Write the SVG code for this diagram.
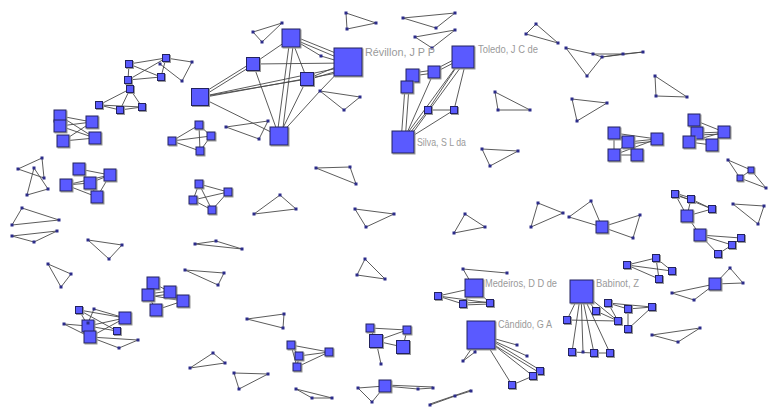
<svg xmlns="http://www.w3.org/2000/svg" width="768" height="407" viewBox="0 0 768 407">
<defs>
<filter id="sh" x="-30%" y="-30%" width="160%" height="160%"><feDropShadow dx="1" dy="1" stdDeviation="0.5" flood-color="#9a9a9a"/></filter>
</defs>
<style>
.n{fill:#5a5aff;stroke:#23235e;stroke-width:1;filter:url(#sh)}
.d{fill:#2c2c8a}
#edges line{stroke:#484848;stroke-width:0.9}
.l{font-family:"Liberation Sans",Arial,sans-serif;font-size:10.5px;fill:#9a9a9a}
</style>
<rect width="768" height="407" fill="#fff"/>
<g id="edges">
<line x1="253" y1="32" x2="282" y2="23"/><line x1="282" y1="23" x2="262" y2="42"/><line x1="262" y1="42" x2="253" y2="32"/>
<line x1="346" y1="13" x2="376" y2="23"/><line x1="376" y1="23" x2="347" y2="29"/><line x1="347" y1="29" x2="346" y2="13"/>
<line x1="403" y1="18" x2="455" y2="13"/><line x1="455" y1="13" x2="436" y2="28"/><line x1="436" y1="28" x2="403" y2="18"/>
<line x1="415" y1="37" x2="455" y2="30"/><line x1="455" y1="30" x2="432" y2="48"/><line x1="432" y1="48" x2="415" y2="37"/>
<line x1="536" y1="24" x2="526" y2="34"/><line x1="526" y1="34" x2="558" y2="43"/><line x1="558" y1="43" x2="536" y2="24"/>
<line x1="566" y1="48" x2="593" y2="54"/><line x1="566" y1="48" x2="587" y2="76"/><line x1="593" y1="54" x2="602" y2="57"/><line x1="587" y1="76" x2="602" y2="57"/><line x1="602" y1="57" x2="623" y2="54"/><line x1="593" y1="54" x2="623" y2="54"/><line x1="623" y1="54" x2="643" y2="52"/><line x1="602" y1="57" x2="643" y2="52"/>
<line x1="655" y1="76" x2="656" y2="96"/><line x1="656" y1="96" x2="687" y2="97"/><line x1="687" y1="97" x2="655" y2="76"/>
<line x1="572" y1="99" x2="607" y2="103"/><line x1="607" y1="103" x2="577" y2="121"/><line x1="577" y1="121" x2="572" y2="99"/>
<line x1="495" y1="92" x2="498" y2="110"/><line x1="498" y1="110" x2="530" y2="110"/><line x1="530" y1="110" x2="495" y2="92"/>
<line x1="463" y1="58" x2="434" y2="73"/><line x1="463" y1="55" x2="434" y2="70"/><line x1="434" y1="73" x2="412" y2="76"/><line x1="434" y1="70" x2="412" y2="73"/><line x1="412" y1="75" x2="407" y2="87"/><line x1="405" y1="87" x2="401" y2="142"/><line x1="409" y1="87" x2="405" y2="142"/><line x1="461" y1="60" x2="401" y2="142"/><line x1="466" y1="60" x2="406" y2="142"/><line x1="434" y1="72" x2="403" y2="142"/><line x1="463" y1="57" x2="428" y2="110"/><line x1="467" y1="57" x2="454" y2="110"/><line x1="428" y1="110" x2="454" y2="110"/><line x1="428" y1="110" x2="403" y2="142"/><line x1="454" y1="110" x2="403" y2="142"/>
<line x1="291" y1="38" x2="348" y2="62"/><line x1="291" y1="35" x2="348" y2="58"/><line x1="291" y1="38" x2="321" y2="56"/><line x1="321" y1="56" x2="348" y2="64"/><line x1="291" y1="38" x2="253" y2="64"/><line x1="253" y1="64" x2="348" y2="63"/><line x1="200" y1="98" x2="253" y2="65"/><line x1="200" y1="95" x2="253" y2="62"/><line x1="200" y1="97" x2="348" y2="66"/><line x1="200" y1="98" x2="348" y2="71"/><line x1="200" y1="97" x2="307" y2="79"/><line x1="200" y1="97" x2="279" y2="136"/><line x1="253" y1="64" x2="279" y2="136"/><line x1="290" y1="38" x2="277" y2="136"/><line x1="294" y1="38" x2="282" y2="136"/><line x1="291" y1="38" x2="307" y2="79"/><line x1="307" y1="79" x2="279" y2="136"/><line x1="307" y1="79" x2="348" y2="62"/><line x1="307" y1="80" x2="348" y2="68"/><line x1="348" y1="62" x2="320" y2="91"/><line x1="320" y1="91" x2="279" y2="136"/>
<line x1="320" y1="91" x2="360" y2="97"/><line x1="360" y1="97" x2="344" y2="110"/><line x1="344" y1="110" x2="320" y2="91"/>
<line x1="226" y1="127" x2="268" y2="121"/><line x1="268" y1="121" x2="259" y2="139"/><line x1="259" y1="139" x2="226" y2="127"/>
<line x1="129" y1="64" x2="166" y2="58"/><line x1="129" y1="64" x2="161" y2="77"/><line x1="128" y1="80" x2="166" y2="58"/><line x1="128" y1="80" x2="161" y2="77"/><line x1="129" y1="64" x2="128" y2="80"/><line x1="160" y1="64" x2="182" y2="81"/><line x1="166" y1="58" x2="192" y2="62"/><line x1="182" y1="81" x2="192" y2="62"/><line x1="166" y1="58" x2="161" y2="77"/>
<line x1="130" y1="89" x2="99" y2="105"/><line x1="130" y1="89" x2="120" y2="110"/><line x1="130" y1="89" x2="142" y2="107"/><line x1="99" y1="105" x2="120" y2="110"/><line x1="99" y1="105" x2="142" y2="107"/><line x1="120" y1="110" x2="142" y2="107"/>
<line x1="60" y1="116" x2="92" y2="122"/><line x1="60" y1="126" x2="92" y2="122"/><line x1="60" y1="116" x2="95" y2="138"/><line x1="60" y1="126" x2="95" y2="138"/><line x1="63" y1="141" x2="95" y2="138"/><line x1="63" y1="141" x2="92" y2="122"/>
<line x1="79" y1="169" x2="110" y2="175"/><line x1="79" y1="169" x2="90" y2="183"/><line x1="66" y1="185" x2="90" y2="183"/><line x1="66" y1="185" x2="110" y2="175"/><line x1="66" y1="185" x2="97" y2="197"/><line x1="90" y1="183" x2="110" y2="175"/><line x1="90" y1="183" x2="97" y2="197"/><line x1="97" y1="197" x2="110" y2="175"/>
<line x1="18" y1="169" x2="42" y2="158"/><line x1="42" y1="158" x2="44" y2="178"/><line x1="44" y1="178" x2="18" y2="169"/>
<line x1="34" y1="168" x2="48" y2="189"/><line x1="48" y1="189" x2="27" y2="195"/><line x1="27" y1="195" x2="34" y2="168"/>
<line x1="22" y1="208" x2="12" y2="225"/><line x1="12" y1="225" x2="59" y2="220"/><line x1="59" y1="220" x2="22" y2="208"/>
<line x1="12" y1="236" x2="57" y2="231"/><line x1="57" y1="231" x2="34" y2="242"/><line x1="34" y1="242" x2="12" y2="236"/>
<line x1="88" y1="240" x2="122" y2="245"/><line x1="122" y1="245" x2="109" y2="259"/><line x1="109" y1="259" x2="88" y2="240"/>
<line x1="48" y1="264" x2="71" y2="274"/><line x1="71" y1="274" x2="61" y2="287"/><line x1="61" y1="287" x2="48" y2="264"/>
<line x1="199" y1="125" x2="211" y2="136"/><line x1="199" y1="125" x2="200" y2="151"/><line x1="211" y1="136" x2="200" y2="151"/><line x1="172" y1="141" x2="199" y2="125"/><line x1="172" y1="141" x2="211" y2="136"/><line x1="172" y1="141" x2="200" y2="151"/>
<line x1="199" y1="184" x2="228" y2="192"/><line x1="199" y1="184" x2="193" y2="200"/><line x1="199" y1="184" x2="212" y2="210"/><line x1="193" y1="200" x2="228" y2="192"/><line x1="193" y1="200" x2="212" y2="210"/><line x1="212" y1="210" x2="228" y2="192"/>
<line x1="316" y1="168" x2="350" y2="167"/><line x1="350" y1="167" x2="356" y2="184"/><line x1="356" y1="184" x2="316" y2="168"/>
<line x1="280" y1="195" x2="296" y2="209"/><line x1="296" y1="209" x2="254" y2="214"/><line x1="254" y1="214" x2="280" y2="195"/>
<line x1="195" y1="244" x2="216" y2="241"/><line x1="216" y1="241" x2="242" y2="249"/><line x1="242" y1="249" x2="195" y2="244"/>
<line x1="355" y1="209" x2="394" y2="214"/><line x1="394" y1="214" x2="366" y2="227"/><line x1="366" y1="227" x2="355" y2="209"/>
<line x1="365" y1="259" x2="357" y2="275"/><line x1="357" y1="275" x2="385" y2="279"/><line x1="385" y1="279" x2="365" y2="259"/>
<line x1="185" y1="270" x2="224" y2="273"/><line x1="224" y1="273" x2="218" y2="285"/><line x1="218" y1="285" x2="185" y2="270"/>
<line x1="482" y1="149" x2="518" y2="151"/><line x1="518" y1="151" x2="490" y2="166"/><line x1="490" y1="166" x2="482" y2="149"/>
<line x1="465" y1="214" x2="485" y2="227"/><line x1="485" y1="227" x2="454" y2="233"/><line x1="454" y1="233" x2="465" y2="214"/>
<line x1="538" y1="203" x2="563" y2="213"/><line x1="563" y1="213" x2="531" y2="227"/><line x1="531" y1="227" x2="538" y2="203"/>
<line x1="569" y1="217" x2="591" y2="201"/><line x1="569" y1="217" x2="602" y2="227"/><line x1="591" y1="201" x2="602" y2="227"/><line x1="602" y1="227" x2="640" y2="215"/><line x1="602" y1="227" x2="633" y2="238"/><line x1="640" y1="215" x2="633" y2="238"/>
<line x1="614" y1="133" x2="657" y2="139"/><line x1="628" y1="142" x2="657" y2="139"/><line x1="628" y1="144" x2="657" y2="141"/><line x1="614" y1="133" x2="614" y2="155"/><line x1="628" y1="142" x2="614" y2="155"/><line x1="614" y1="155" x2="637" y2="155"/><line x1="628" y1="142" x2="637" y2="155"/><line x1="614" y1="155" x2="657" y2="139"/><line x1="614" y1="133" x2="628" y2="142"/>
<line x1="694" y1="120" x2="724" y2="132"/><line x1="697" y1="133" x2="724" y2="132"/><line x1="697" y1="135" x2="724" y2="134"/><line x1="694" y1="120" x2="697" y2="133"/><line x1="689" y1="142" x2="697" y2="133"/><line x1="689" y1="142" x2="712" y2="145"/><line x1="697" y1="133" x2="712" y2="145"/><line x1="712" y1="145" x2="724" y2="132"/><line x1="689" y1="142" x2="724" y2="132"/>
<line x1="728" y1="160" x2="751" y2="170"/><line x1="728" y1="160" x2="740" y2="178"/><line x1="740" y1="178" x2="751" y2="170"/><line x1="740" y1="178" x2="766" y2="188"/><line x1="751" y1="170" x2="766" y2="188"/>
<line x1="733" y1="204" x2="764" y2="206"/><line x1="764" y1="206" x2="758" y2="224"/><line x1="758" y1="224" x2="733" y2="204"/>
<line x1="675" y1="193" x2="691" y2="198"/><line x1="675" y1="195" x2="691" y2="200"/><line x1="675" y1="194" x2="712" y2="209"/><line x1="691" y1="199" x2="712" y2="209"/><line x1="675" y1="194" x2="687" y2="216"/><line x1="691" y1="199" x2="687" y2="216"/><line x1="687" y1="216" x2="712" y2="209"/><line x1="687" y1="216" x2="700" y2="235"/><line x1="700" y1="235" x2="741" y2="238"/><line x1="700" y1="235" x2="732" y2="245"/><line x1="700" y1="235" x2="718" y2="254"/><line x1="718" y1="254" x2="732" y2="245"/><line x1="732" y1="245" x2="741" y2="238"/>
<line x1="627" y1="265" x2="656" y2="258"/><line x1="627" y1="265" x2="672" y2="271"/><line x1="627" y1="265" x2="659" y2="279"/><line x1="656" y1="258" x2="672" y2="271"/><line x1="656" y1="258" x2="659" y2="279"/>
<line x1="715" y1="284" x2="743" y2="283"/><line x1="730" y1="268" x2="743" y2="283"/><line x1="730" y1="268" x2="715" y2="284"/><line x1="672" y1="293" x2="715" y2="284"/><line x1="694" y1="300" x2="715" y2="284"/><line x1="672" y1="293" x2="694" y2="300"/>
<line x1="652" y1="335" x2="700" y2="328"/><line x1="700" y1="328" x2="678" y2="342"/><line x1="678" y1="342" x2="652" y2="335"/>
<line x1="581" y1="291" x2="596" y2="311"/><line x1="581" y1="291" x2="618" y2="321"/><line x1="581" y1="291" x2="567" y2="320"/><line x1="581" y1="291" x2="572" y2="352"/><line x1="581" y1="291" x2="583" y2="352"/><line x1="581" y1="291" x2="594" y2="353"/><line x1="581" y1="291" x2="610" y2="353"/><line x1="608" y1="303" x2="628" y2="309"/><line x1="608" y1="303" x2="652" y2="307"/><line x1="628" y1="309" x2="652" y2="307"/><line x1="628" y1="309" x2="628" y2="329"/><line x1="628" y1="329" x2="652" y2="307"/><line x1="596" y1="311" x2="618" y2="321"/><line x1="608" y1="303" x2="618" y2="321"/><line x1="567" y1="320" x2="618" y2="321"/><line x1="572" y1="352" x2="594" y2="353"/><line x1="594" y1="353" x2="610" y2="353"/>
<line x1="474" y1="288" x2="438" y2="296"/><line x1="474" y1="288" x2="463" y2="304"/><line x1="474" y1="288" x2="490" y2="303"/><line x1="438" y1="296" x2="463" y2="304"/><line x1="438" y1="296" x2="490" y2="303"/><line x1="463" y1="303" x2="490" y2="302"/><line x1="463" y1="305" x2="490" y2="304"/><line x1="474" y1="288" x2="463" y2="269"/><line x1="463" y1="269" x2="507" y2="273"/>
<line x1="481" y1="335" x2="517" y2="345"/><line x1="481" y1="335" x2="527" y2="356"/><line x1="481" y1="334" x2="540" y2="370"/><line x1="481" y1="337" x2="540" y2="373"/><line x1="481" y1="335" x2="533" y2="376"/><line x1="481" y1="335" x2="512" y2="385"/><line x1="512" y1="385" x2="533" y2="376"/><line x1="533" y1="376" x2="540" y2="371"/><line x1="481" y1="335" x2="475" y2="352"/><line x1="481" y1="335" x2="463" y2="361"/><line x1="475" y1="352" x2="463" y2="361"/>
<line x1="370" y1="328" x2="407" y2="330"/><line x1="370" y1="328" x2="376" y2="341"/><line x1="376" y1="341" x2="407" y2="330"/><line x1="376" y1="341" x2="403" y2="347"/><line x1="403" y1="347" x2="407" y2="330"/><line x1="376" y1="341" x2="381" y2="364"/>
<line x1="291" y1="345" x2="329" y2="352"/><line x1="299" y1="356" x2="329" y2="352"/><line x1="297" y1="367" x2="329" y2="352"/><line x1="291" y1="345" x2="299" y2="356"/><line x1="291" y1="345" x2="297" y2="367"/><line x1="299" y1="356" x2="297" y2="367"/>
<line x1="247" y1="319" x2="284" y2="314"/><line x1="284" y1="314" x2="283" y2="328"/><line x1="283" y1="328" x2="247" y2="319"/>
<line x1="190" y1="368" x2="213" y2="353"/><line x1="213" y1="353" x2="225" y2="363"/><line x1="225" y1="363" x2="190" y2="368"/>
<line x1="234" y1="373" x2="268" y2="374"/><line x1="268" y1="374" x2="239" y2="389"/><line x1="239" y1="389" x2="234" y2="373"/>
<line x1="296" y1="389" x2="312" y2="398"/><line x1="312" y1="398" x2="332" y2="398"/><line x1="332" y1="398" x2="296" y2="389"/>
<line x1="358" y1="388" x2="385" y2="386"/><line x1="358" y1="388" x2="372" y2="402"/><line x1="372" y1="402" x2="385" y2="386"/><line x1="385" y1="386" x2="418" y2="389"/><line x1="418" y1="389" x2="433" y2="388"/><line x1="385" y1="385" x2="433" y2="387"/>
<line x1="430" y1="405" x2="455" y2="396"/><line x1="455" y1="396" x2="471" y2="391"/><line x1="430" y1="404" x2="471" y2="390"/>
<line x1="153" y1="283" x2="170" y2="292"/><line x1="148" y1="294" x2="170" y2="291"/><line x1="148" y1="297" x2="170" y2="294"/><line x1="148" y1="295" x2="183" y2="301"/><line x1="170" y1="292" x2="183" y2="301"/><line x1="148" y1="295" x2="156" y2="310"/><line x1="156" y1="310" x2="183" y2="301"/><line x1="153" y1="283" x2="148" y2="295"/>
<line x1="79" y1="310" x2="125" y2="318"/><line x1="79" y1="310" x2="117" y2="331"/><line x1="94" y1="309" x2="125" y2="318"/><line x1="94" y1="309" x2="88" y2="323"/><line x1="64" y1="324" x2="88" y2="326"/><line x1="64" y1="324" x2="90" y2="337"/><line x1="88" y1="326" x2="125" y2="318"/><line x1="88" y1="326" x2="117" y2="331"/><line x1="90" y1="337" x2="125" y2="318"/><line x1="90" y1="337" x2="138" y2="340"/><line x1="90" y1="337" x2="119" y2="348"/><line x1="119" y1="348" x2="138" y2="340"/><line x1="79" y1="310" x2="88" y2="326"/>
</g>
<g id="t1a"><rect class="d" x="251.5" y="30.5" width="3" height="3"/></g><g id="t1b"><rect class="d" x="280.5" y="21.5" width="3" height="3"/></g><g id="t1c"><rect class="d" x="260.5" y="40.5" width="3" height="3"/></g>
<g id="t2a"><rect class="d" x="344.5" y="11.5" width="3" height="3"/></g><g id="t2b"><rect class="d" x="374.5" y="21.5" width="3" height="3"/></g><g id="t2c"><rect class="d" x="345.5" y="27.5" width="3" height="3"/></g>
<g id="t3a"><rect class="d" x="401.5" y="16.5" width="3" height="3"/></g><g id="t3b"><rect class="d" x="453.5" y="11.5" width="3" height="3"/></g><g id="t3c"><rect class="d" x="434.5" y="26.5" width="3" height="3"/></g>
<g id="t4a"><rect class="d" x="413.5" y="35.5" width="3" height="3"/></g><g id="t4b"><rect class="d" x="453.5" y="28.5" width="3" height="3"/></g><g id="t4c"><rect class="d" x="430.5" y="46.5" width="3" height="3"/></g>
<g id="t5a"><rect class="d" x="534.5" y="22.5" width="3" height="3"/></g><g id="t5b"><rect class="d" x="524.5" y="32.5" width="3" height="3"/></g><g id="t5c"><rect class="d" x="556.5" y="41.5" width="3" height="3"/></g>
<g id="c6a"><rect class="d" x="564.5" y="46.5" width="3" height="3"/></g><g id="c6b"><rect class="d" x="591.5" y="52.5" width="3" height="3"/></g><g id="c6c"><rect class="d" x="600.5" y="55.5" width="3" height="3"/></g><g id="c6d"><rect class="d" x="621.5" y="52.5" width="3" height="3"/></g><g id="c6e"><rect class="d" x="641.5" y="50.5" width="3" height="3"/></g><g id="c6f"><rect class="d" x="585.5" y="74.5" width="3" height="3"/></g>
<g id="t7a"><rect class="d" x="653.5" y="74.5" width="3" height="3"/></g><g id="t7b"><rect class="d" x="654.5" y="94.5" width="3" height="3"/></g><g id="t7c"><rect class="d" x="685.5" y="95.5" width="3" height="3"/></g>
<g id="t8a"><rect class="d" x="570.5" y="97.5" width="3" height="3"/></g><g id="t8b"><rect class="d" x="605.5" y="101.5" width="3" height="3"/></g><g id="t8c"><rect class="d" x="575.5" y="119.5" width="3" height="3"/></g>
<g id="t9a"><rect class="d" x="493.5" y="90.5" width="3" height="3"/></g><g id="t9b"><rect class="d" x="496.5" y="108.5" width="3" height="3"/></g><g id="t9c"><rect class="d" x="528.5" y="108.5" width="3" height="3"/></g>
<g id="toledo"><rect class="n" x="452" y="46" width="22" height="22"/><text class="l" x="478" y="53" textLength="60" lengthAdjust="spacingAndGlyphs">Toledo, J C de</text></g>
<g id="tq1"><rect class="n" x="406" y="69" width="13" height="13"/></g>
<g id="tq2"><rect class="n" x="401" y="81" width="12" height="12"/></g>
<g id="tq3"><rect class="n" x="428" y="66" width="12" height="12"/></g>
<g id="tq4"><rect class="n" x="424.5" y="106.5" width="7" height="7"/></g>
<g id="tq5"><rect class="n" x="450.5" y="106.5" width="7" height="7"/></g>
<g id="silva"><rect class="n" x="392" y="131" width="22" height="22"/><text class="l" x="417" y="146" textLength="49" lengthAdjust="spacingAndGlyphs">Silva, S L da</text></g>
<g id="revillon"><rect class="n" x="334" y="48" width="28" height="28"/><text class="l" x="365" y="56" textLength="70" lengthAdjust="spacingAndGlyphs">Révillon, J P P</text></g>
<g id="r1"><rect class="n" x="282" y="29" width="18" height="18"/></g>
<g id="r2"><rect class="n" x="246.5" y="57.5" width="13" height="13"/></g>
<g id="r3"><rect class="n" x="300.5" y="72.5" width="13" height="13"/></g>
<g id="r4"><rect class="n" x="191.5" y="88.5" width="17" height="17"/></g>
<g id="r5"><rect class="n" x="270" y="127" width="18" height="18"/></g>
<g id="r6"><rect class="d" x="319.5" y="54.5" width="3" height="3"/></g>
<g id="t10a"><rect class="d" x="318.5" y="89.5" width="3" height="3"/></g><g id="t10b"><rect class="d" x="358.5" y="95.5" width="3" height="3"/></g><g id="t10c"><rect class="d" x="342.5" y="108.5" width="3" height="3"/></g>
<g id="t11a"><rect class="d" x="224.5" y="125.5" width="3" height="3"/></g><g id="t11b"><rect class="d" x="266.5" y="119.5" width="3" height="3"/></g><g id="t11c"><rect class="d" x="257.5" y="137.5" width="3" height="3"/></g>
<g id="l1a"><rect class="n" x="125.5" y="60.5" width="7" height="7"/></g><g id="l1b"><rect class="n" x="162.5" y="54.5" width="7" height="7"/></g><g id="l1c"><rect class="n" x="124.5" y="76.5" width="7" height="7"/></g><g id="l1d"><rect class="n" x="157.5" y="73.5" width="7" height="7"/></g>
<g id="l1e"><rect class="d" x="158.5" y="62.5" width="3" height="3"/></g><g id="l1f"><rect class="d" x="180.5" y="79.5" width="3" height="3"/></g><g id="l1g"><rect class="d" x="190.5" y="60.5" width="3" height="3"/></g>
<g id="l2a"><rect class="n" x="126.5" y="85.5" width="7" height="7"/></g><g id="l2b"><rect class="n" x="95.5" y="101.5" width="7" height="7"/></g><g id="l2c"><rect class="n" x="116.5" y="106.5" width="7" height="7"/></g><g id="l2d"><rect class="n" x="138.5" y="103.5" width="7" height="7"/></g>
<g id="l3a"><rect class="n" x="54" y="110" width="12" height="12"/></g><g id="l3b"><rect class="n" x="54" y="120" width="12" height="12"/></g><g id="l3c"><rect class="n" x="86" y="116" width="12" height="12"/></g><g id="l3d"><rect class="n" x="89" y="132" width="12" height="12"/></g><g id="l3e"><rect class="n" x="57" y="135" width="12" height="12"/></g>
<g id="l4a"><rect class="n" x="73" y="163" width="12" height="12"/></g><g id="l4b"><rect class="n" x="104" y="169" width="12" height="12"/></g><g id="l4c"><rect class="n" x="60" y="179" width="12" height="12"/></g><g id="l4d"><rect class="n" x="84" y="177" width="12" height="12"/></g><g id="l4e"><rect class="n" x="91" y="191" width="12" height="12"/></g>
<g id="t12a"><rect class="d" x="16.5" y="167.5" width="3" height="3"/></g><g id="t12b"><rect class="d" x="40.5" y="156.5" width="3" height="3"/></g><g id="t12c"><rect class="d" x="42.5" y="176.5" width="3" height="3"/></g>
<g id="t13a"><rect class="d" x="32.5" y="166.5" width="3" height="3"/></g><g id="t13b"><rect class="d" x="46.5" y="187.5" width="3" height="3"/></g><g id="t13c"><rect class="d" x="25.5" y="193.5" width="3" height="3"/></g>
<g id="t14a"><rect class="d" x="20.5" y="206.5" width="3" height="3"/></g><g id="t14b"><rect class="d" x="10.5" y="223.5" width="3" height="3"/></g><g id="t14c"><rect class="d" x="57.5" y="218.5" width="3" height="3"/></g>
<g id="t15a"><rect class="d" x="10.5" y="234.5" width="3" height="3"/></g><g id="t15b"><rect class="d" x="55.5" y="229.5" width="3" height="3"/></g><g id="t15c"><rect class="d" x="32.5" y="240.5" width="3" height="3"/></g>
<g id="t16a"><rect class="d" x="86.5" y="238.5" width="3" height="3"/></g><g id="t16b"><rect class="d" x="120.5" y="243.5" width="3" height="3"/></g><g id="t16c"><rect class="d" x="107.5" y="257.5" width="3" height="3"/></g>
<g id="t17a"><rect class="d" x="46.5" y="262.5" width="3" height="3"/></g><g id="t17b"><rect class="d" x="69.5" y="272.5" width="3" height="3"/></g><g id="t17c"><rect class="d" x="59.5" y="285.5" width="3" height="3"/></g>
<g id="m1a"><rect class="n" x="195" y="121" width="8" height="8"/></g><g id="m1b"><rect class="n" x="207" y="132" width="8" height="8"/></g><g id="m1c"><rect class="n" x="168" y="137" width="8" height="8"/></g><g id="m1d"><rect class="n" x="196" y="147" width="8" height="8"/></g>
<g id="m2a"><rect class="n" x="195" y="180" width="8" height="8"/></g><g id="m2b"><rect class="n" x="224" y="188" width="8" height="8"/></g><g id="m2c"><rect class="n" x="189" y="196" width="8" height="8"/></g><g id="m2d"><rect class="n" x="208" y="206" width="8" height="8"/></g>
<g id="t18a"><rect class="d" x="314.5" y="166.5" width="3" height="3"/></g><g id="t18b"><rect class="d" x="348.5" y="165.5" width="3" height="3"/></g><g id="t18c"><rect class="d" x="354.5" y="182.5" width="3" height="3"/></g>
<g id="t19a"><rect class="d" x="278.5" y="193.5" width="3" height="3"/></g><g id="t19b"><rect class="d" x="294.5" y="207.5" width="3" height="3"/></g><g id="t19c"><rect class="d" x="252.5" y="212.5" width="3" height="3"/></g>
<g id="t20a"><rect class="d" x="193.5" y="242.5" width="3" height="3"/></g><g id="t20b"><rect class="d" x="214.5" y="239.5" width="3" height="3"/></g><g id="t20c"><rect class="d" x="240.5" y="247.5" width="3" height="3"/></g>
<g id="t21a"><rect class="d" x="353.5" y="207.5" width="3" height="3"/></g><g id="t21b"><rect class="d" x="392.5" y="212.5" width="3" height="3"/></g><g id="t21c"><rect class="d" x="364.5" y="225.5" width="3" height="3"/></g>
<g id="t22a"><rect class="d" x="363.5" y="257.5" width="3" height="3"/></g><g id="t22b"><rect class="d" x="355.5" y="273.5" width="3" height="3"/></g><g id="t22c"><rect class="d" x="383.5" y="277.5" width="3" height="3"/></g>
<g id="t23a"><rect class="d" x="183.5" y="268.5" width="3" height="3"/></g><g id="t23b"><rect class="d" x="222.5" y="271.5" width="3" height="3"/></g><g id="t23c"><rect class="d" x="216.5" y="283.5" width="3" height="3"/></g>
<g id="t24a"><rect class="d" x="480.5" y="147.5" width="3" height="3"/></g><g id="t24b"><rect class="d" x="516.5" y="149.5" width="3" height="3"/></g><g id="t24c"><rect class="d" x="488.5" y="164.5" width="3" height="3"/></g>
<g id="t25a"><rect class="d" x="463.5" y="212.5" width="3" height="3"/></g><g id="t25b"><rect class="d" x="483.5" y="225.5" width="3" height="3"/></g><g id="t25c"><rect class="d" x="452.5" y="231.5" width="3" height="3"/></g>
<g id="t26a"><rect class="d" x="536.5" y="201.5" width="3" height="3"/></g><g id="t26b"><rect class="d" x="561.5" y="211.5" width="3" height="3"/></g><g id="t26c"><rect class="d" x="529.5" y="225.5" width="3" height="3"/></g>
<g id="m3a"><rect class="d" x="567.5" y="215.5" width="3" height="3"/></g><g id="m3b"><rect class="d" x="589.5" y="199.5" width="3" height="3"/></g><g id="m3c"><rect class="n" x="596" y="221" width="12" height="12"/></g><g id="m3d"><rect class="d" x="638.5" y="213.5" width="3" height="3"/></g><g id="m3e"><rect class="d" x="631.5" y="236.5" width="3" height="3"/></g>
<g id="pa1"><rect class="n" x="608" y="127" width="12" height="12"/></g><g id="pa2"><rect class="n" x="622" y="136" width="12" height="12"/></g><g id="pa3"><rect class="n" x="651" y="133" width="12" height="12"/></g><g id="pa4"><rect class="n" x="608" y="149" width="12" height="12"/></g><g id="pa5"><rect class="n" x="631" y="149" width="12" height="12"/></g>
<g id="qb1"><rect class="n" x="688" y="114" width="12" height="12"/></g><g id="qb2"><rect class="n" x="691" y="127" width="12" height="12"/></g><g id="qb3"><rect class="n" x="718" y="126" width="12" height="12"/></g><g id="qb4"><rect class="n" x="683" y="136" width="12" height="12"/></g><g id="qb5"><rect class="n" x="706" y="139" width="12" height="12"/></g>
<g id="cc1"><rect class="d" x="726.5" y="158.5" width="3" height="3"/></g><g id="cc2"><rect class="n" x="748" y="167" width="6" height="6"/></g><g id="cc3"><rect class="n" x="737" y="175" width="6" height="6"/></g><g id="cc4"><rect class="d" x="764.5" y="186.5" width="3" height="3"/></g>
<g id="t27a"><rect class="d" x="731.5" y="202.5" width="3" height="3"/></g><g id="t27b"><rect class="d" x="762.5" y="204.5" width="3" height="3"/></g><g id="t27c"><rect class="d" x="756.5" y="222.5" width="3" height="3"/></g>
<g id="dd1"><rect class="n" x="671.5" y="190.5" width="7" height="7"/></g><g id="dd2"><rect class="n" x="687.5" y="195.5" width="7" height="7"/></g><g id="dd3"><rect class="n" x="708.5" y="205.5" width="7" height="7"/></g><g id="dd4"><rect class="n" x="681" y="210" width="12" height="12"/></g><g id="dd5"><rect class="n" x="694" y="229" width="12" height="12"/></g><g id="dd6"><rect class="n" x="737.5" y="234.5" width="7" height="7"/></g><g id="dd7"><rect class="n" x="728.5" y="241.5" width="7" height="7"/></g><g id="dd8"><rect class="n" x="714.5" y="250.5" width="7" height="7"/></g>
<g id="ee1"><rect class="n" x="623.5" y="261.5" width="7" height="7"/></g><g id="ee2"><rect class="n" x="652.5" y="254.5" width="7" height="7"/></g><g id="ee3"><rect class="n" x="668.5" y="267.5" width="7" height="7"/></g><g id="ee4"><rect class="n" x="655.5" y="275.5" width="7" height="7"/></g>
<g id="ff1"><rect class="n" x="709" y="278" width="12" height="12"/></g><g id="ff2"><rect class="d" x="728.5" y="266.5" width="3" height="3"/></g><g id="ff3"><rect class="d" x="741.5" y="281.5" width="3" height="3"/></g><g id="ff4"><rect class="d" x="670.5" y="291.5" width="3" height="3"/></g><g id="ff5"><rect class="d" x="692.5" y="298.5" width="3" height="3"/></g>
<g id="t28a"><rect class="d" x="650.5" y="333.5" width="3" height="3"/></g><g id="t28b"><rect class="d" x="698.5" y="326.5" width="3" height="3"/></g><g id="t28c"><rect class="d" x="676.5" y="340.5" width="3" height="3"/></g>
<g id="babinot"><rect class="n" x="570" y="280" width="23" height="23"/><text class="l" x="596" y="287" textLength="43" lengthAdjust="spacingAndGlyphs">Babinot, Z</text></g>
<g id="bb1"><rect class="n" x="604.5" y="299.5" width="7" height="7"/></g><g id="bb2"><rect class="n" x="592.5" y="307.5" width="7" height="7"/></g><g id="bb3"><rect class="n" x="624.5" y="305.5" width="7" height="7"/></g><g id="bb4"><rect class="n" x="648.5" y="303.5" width="7" height="7"/></g><g id="bb5"><rect class="n" x="614.5" y="317.5" width="7" height="7"/></g><g id="bb6"><rect class="n" x="624.5" y="325.5" width="7" height="7"/></g><g id="bb7"><rect class="n" x="563.5" y="316.5" width="7" height="7"/></g><g id="bb8"><rect class="n" x="568.5" y="348.5" width="7" height="7"/></g><g id="bb9"><rect class="d" x="581.5" y="350.5" width="3" height="3"/></g><g id="bb10"><rect class="n" x="590.5" y="349.5" width="7" height="7"/></g><g id="bb11"><rect class="n" x="606.5" y="349.5" width="7" height="7"/></g>
<g id="medeiros"><rect class="n" x="465" y="279" width="18" height="18"/><text class="l" x="485" y="287" textLength="72" lengthAdjust="spacingAndGlyphs">Medeiros, D D de</text></g>
<g id="me1"><rect class="n" x="434.5" y="292.5" width="7" height="7"/></g><g id="me2"><rect class="n" x="459.5" y="300.5" width="7" height="7"/></g><g id="me3"><rect class="n" x="486.5" y="299.5" width="7" height="7"/></g><g id="me4"><rect class="d" x="461.5" y="267.5" width="3" height="3"/></g><g id="me5"><rect class="d" x="505.5" y="271.5" width="3" height="3"/></g>
<g id="candido"><rect class="n" x="467" y="321" width="28" height="28"/><text class="l" x="498" y="328" textLength="54" lengthAdjust="spacingAndGlyphs">Cândido, G A</text></g>
<g id="ca1"><rect class="d" x="515.5" y="343.5" width="3" height="3"/></g><g id="ca2"><rect class="d" x="525.5" y="354.5" width="3" height="3"/></g><g id="ca3"><rect class="d" x="473.5" y="350.5" width="3" height="3"/></g><g id="ca4"><rect class="d" x="461.5" y="359.5" width="3" height="3"/></g><g id="ca5"><rect class="n" x="536.5" y="367.5" width="7" height="7"/></g><g id="ca6"><rect class="n" x="529.5" y="372.5" width="7" height="7"/></g><g id="ca7"><rect class="n" x="508.5" y="381.5" width="7" height="7"/></g>
<g id="n1a"><rect class="n" x="366" y="324" width="8" height="8"/></g><g id="n1b"><rect class="n" x="369.5" y="334.5" width="13" height="13"/></g><g id="n1c"><rect class="n" x="403" y="326" width="8" height="8"/></g><g id="n1d"><rect class="n" x="396.5" y="340.5" width="13" height="13"/></g><g id="n1e"><rect class="d" x="379.5" y="362.5" width="3" height="3"/></g>
<g id="n2a"><rect class="n" x="287" y="341" width="8" height="8"/></g><g id="n2b"><rect class="n" x="295" y="352" width="8" height="8"/></g><g id="n2c"><rect class="n" x="293" y="363" width="8" height="8"/></g><g id="n2d"><rect class="n" x="325" y="348" width="8" height="8"/></g>
<g id="t29a"><rect class="d" x="245.5" y="317.5" width="3" height="3"/></g><g id="t29b"><rect class="d" x="282.5" y="312.5" width="3" height="3"/></g><g id="t29c"><rect class="d" x="281.5" y="326.5" width="3" height="3"/></g>
<g id="t30a"><rect class="d" x="188.5" y="366.5" width="3" height="3"/></g><g id="t30b"><rect class="d" x="211.5" y="351.5" width="3" height="3"/></g><g id="t30c"><rect class="d" x="223.5" y="361.5" width="3" height="3"/></g>
<g id="t31a"><rect class="d" x="232.5" y="371.5" width="3" height="3"/></g><g id="t31b"><rect class="d" x="266.5" y="372.5" width="3" height="3"/></g><g id="t31c"><rect class="d" x="237.5" y="387.5" width="3" height="3"/></g>
<g id="t32a"><rect class="d" x="294.5" y="387.5" width="3" height="3"/></g><g id="t32b"><rect class="d" x="310.5" y="396.5" width="3" height="3"/></g><g id="t32c"><rect class="d" x="330.5" y="396.5" width="3" height="3"/></g>
<g id="n3a"><rect class="d" x="356.5" y="386.5" width="3" height="3"/></g><g id="n3b"><rect class="n" x="379" y="380" width="12" height="12"/></g><g id="n3c"><rect class="d" x="416.5" y="387.5" width="3" height="3"/></g><g id="n3d"><rect class="d" x="431.5" y="386.5" width="3" height="3"/></g><g id="n3e"><rect class="d" x="370.5" y="400.5" width="3" height="3"/></g>
<g id="n4a"><rect class="d" x="428.5" y="403.5" width="3" height="3"/></g><g id="n4b"><rect class="d" x="453.5" y="394.5" width="3" height="3"/></g><g id="n4c"><rect class="d" x="469.5" y="389.5" width="3" height="3"/></g>
<g id="f1"><rect class="n" x="147" y="277" width="12" height="12"/></g><g id="f2"><rect class="n" x="142" y="289" width="12" height="12"/></g><g id="f3"><rect class="n" x="164" y="286" width="12" height="12"/></g><g id="f4"><rect class="n" x="177" y="295" width="12" height="12"/></g><g id="f5"><rect class="n" x="150" y="304" width="12" height="12"/></g>
<g id="g1"><rect class="n" x="75.5" y="306.5" width="7" height="7"/></g><g id="g2"><rect class="n" x="119" y="312" width="12" height="12"/></g><g id="g3"><rect class="n" x="82" y="320" width="12" height="12"/></g><g id="g4"><rect class="n" x="113.5" y="327.5" width="7" height="7"/></g><g id="g5"><rect class="n" x="84" y="331" width="12" height="12"/></g>
<g id="gd1"><rect class="d" x="92.5" y="307.5" width="3" height="3"/></g><g id="gd2"><rect class="d" x="62.5" y="322.5" width="3" height="3"/></g><g id="gd3"><rect class="d" x="86.5" y="321.5" width="3" height="3"/></g><g id="gd4"><rect class="d" x="136.5" y="338.5" width="3" height="3"/></g><g id="gd5"><rect class="d" x="117.5" y="346.5" width="3" height="3"/></g>
</svg>
